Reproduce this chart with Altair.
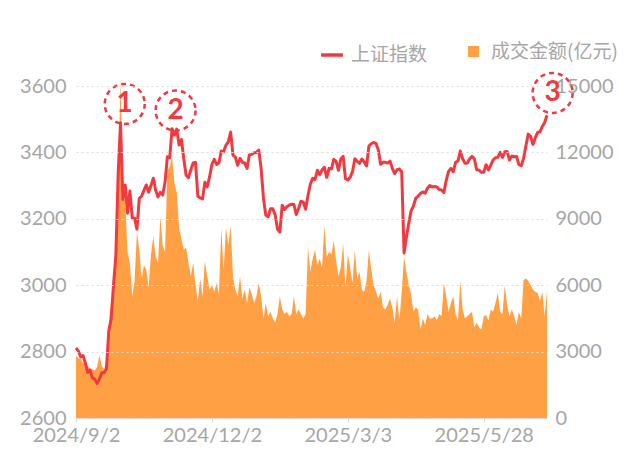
import altair as alt
import pandas as pd

# Shanghai Composite index (daily close), trading-day order
index_close = [
    2811, 2802, 2784, 2788, 2765, 2737, 2744, 2721, 2717, 2704,
    2717, 2736, 2736, 2748, 2863, 2896, 3000, 3088, 3336, 3489,
    3258, 3302, 3217, 3284, 3202, 3202, 3169, 3261, 3268, 3286,
    3302, 3280, 3300, 3322, 3286, 3266, 3280, 3272, 3310, 3387,
    3384, 3471, 3452, 3470, 3422, 3439, 3380, 3331, 3324, 3347,
    3368, 3370, 3268, 3263, 3260, 3310, 3296, 3326, 3364, 3379,
    3364, 3368, 3404, 3402, 3422, 3432, 3461, 3392, 3386, 3361,
    3382, 3370, 3368, 3352, 3393, 3394, 3399, 3400, 3407, 3352,
    3262, 3211, 3206, 3230, 3230, 3212, 3169, 3160, 3241, 3228,
    3236, 3241, 3244, 3243, 3213, 3231, 3253, 3250, 3229, 3270,
    3304, 3322, 3318, 3346, 3333, 3347, 3355, 3325, 3352, 3350,
    3379, 3373, 3346, 3380, 3388, 3321, 3317, 3325, 3342, 3381,
    3373, 3367, 3380, 3371, 3359, 3419, 3426, 3430, 3427, 3408,
    3364, 3370, 3370, 3368, 3374, 3352, 3336, 3348, 3350, 3342,
    3097, 3145, 3186, 3224, 3238, 3262, 3268, 3276, 3281, 3277,
    3292, 3300, 3296, 3297, 3296, 3288, 3287, 3279, 3316, 3343,
    3352, 3342, 3370, 3374, 3404, 3381, 3367, 3368, 3381, 3388,
    3381, 3348, 3347, 3340, 3340, 3363, 3347, 3362, 3377, 3384,
    3385, 3400, 3385, 3402, 3403, 3377, 3389, 3387, 3388, 3363,
    3360, 3382, 3420, 3455, 3448, 3424, 3444, 3460, 3462, 3478,
    3490, 3512,
]

# Turnover (100 million yuan)
turnover = [
    2800, 2700, 2650, 2500, 2450, 2350, 2250, 2200, 2150, 2300,
    2850, 2350, 2200, 2600, 4300, 5300, 5900, 7200, 10500, 15300,
    10000, 9800, 7500, 7000, 5500, 6200, 8400, 7600, 6300, 6900,
    6700, 5900, 7400, 8200, 7300, 7000, 9100, 7800, 7500, 11200,
    11340, 11800, 10600, 10200, 8600, 8100, 7600, 7700, 7000, 6400,
    7000, 6000, 5300, 6300, 5500, 7100, 6400, 5800, 6000, 5700,
    6100, 5600, 8600, 6700, 8600, 7800, 8700, 6400, 5800, 5500,
    6400, 5400, 5800, 5200, 5900, 5600, 5200, 5500, 6100, 5500,
    4500, 5200, 4600, 4800, 4500, 4300, 4700, 5500, 4900, 4700,
    4800, 4600, 4700, 5500, 4700, 4900, 4700, 4500, 4700, 7700,
    6600, 7200, 7600, 6900, 7200, 6800, 8700, 7300, 7500, 7400,
    8000, 7100, 6400, 6800, 7900, 5900, 7400, 6800, 6100, 7600,
    6300, 6600, 5800, 5700, 6200, 7600, 6700, 6000, 5700, 5400,
    5700, 5000, 4900, 5100, 5400, 5000, 4300, 5500, 4400, 5700,
    7300, 6600, 6000, 5600, 4800, 5000, 4900, 4000, 4500, 4200,
    4700, 4500, 4500, 4600, 4400, 4700, 4600, 6100, 5500, 4800,
    5200, 5500, 4700, 4400, 6200, 4900, 4500, 4600, 4700, 4800,
    4100, 4300, 4100, 4000, 4600, 4650, 4400, 4900, 4800, 5200,
    5650, 4800, 4700, 6000, 5100, 4600, 4900, 4600, 4200, 4800,
    4500, 6240, 6300, 6200, 6000, 5800, 5700, 5650, 5300, 5700,
    4600, 5700,
]

tick_idx = [0, 58, 116, 174]
tick_labels = ["2024/9/2", "2024/12/2", "2025/3/3", "2025/5/28"]

left_ticks = [2600, 2800, 3000, 3200, 3400, 3600]
right_ticks = [0, 3000, 6000, 9000, 12000, 15000]

ann_x = [20.8, 42.5, 203.4]
ann_y = [3546, 3526, 3579]
ann_text = ["1", "2", "3"]

RED = "#F03A40"
ORANGE = "#FFA045"
GRAY = "#a6a6a6"
FONT = "Noto Sans CJK SC"

n = min(len(index_close), len(turnover))
df = pd.DataFrame({
    "i": list(range(n)),
    "close": index_close[:n],
    "vol": turnover[:n],
    "s1": ["上证指数"] * n,
    "s2": ["成交金额(亿元)"] * n,
})
ann = pd.DataFrame({"x": ann_x, "y": ann_y, "t": ann_text})

expr = "''"
for k, lab in zip(reversed(tick_idx), reversed(tick_labels)):
    expr = f"datum.value == {k} ? '{lab}' : ({expr})"

xscale = alt.Scale(domain=[0, n - 1], nice=False, zero=False)
yscale_left = alt.Scale(domain=[2600, 3600], nice=False, zero=False)

x_axis = alt.Axis(values=tick_idx, labelExpr=expr, grid=False,
                  domain=True, domainColor="#d3d7dc", domainWidth=1.5,
                  ticks=True, tickColor="#d3d7dc", tickSize=4,
                  labelFontSize=20, labelColor=GRAY, labelFont="Lato",
                  labelPadding=3, labelFlush=False, labelOverlap=False)
left_axis = alt.Axis(orient="left", values=left_ticks, grid=True,
                     gridDash=[2, 3], gridColor="#dcdcdc", gridWidth=1,
                     domain=False, ticks=False, labelFontSize=20, format="d",
                     labelColor=GRAY, labelFont="Lato", labelPadding=10, zindex=1)
right_axis = alt.Axis(orient="right", values=right_ticks, grid=False, format="d",
                      domain=False, ticks=False, labelFontSize=20,
                      labelColor=GRAY, labelFont="Lato", labelPadding=8)

area = alt.Chart(df).mark_area(color=ORANGE, opacity=1, interpolate="linear").encode(
    x=alt.X("i:Q", scale=xscale, title=None, axis=x_axis),
    y=alt.Y("vol:Q", scale=alt.Scale(domain=[0, 15000], nice=False), title=None,
            axis=right_axis),
    fill=alt.Fill("s2:N", scale=alt.Scale(domain=["成交金额(亿元)"], range=[ORANGE]),
                  legend=alt.Legend(title=None, orient="none", legendX=388, legendY=-44,
                                    symbolType="square", symbolSize=121,
                                    labelFontSize=19, labelColor=GRAY, labelFont=FONT,
                                    labelOffset=8, padding=0)),
)

line = alt.Chart(df).mark_line(color=RED, strokeWidth=3, strokeJoin="round").encode(
    x=alt.X("i:Q", scale=xscale, title=None, axis=x_axis),
    y=alt.Y("close:Q", scale=yscale_left, title=None, axis=left_axis),
    stroke=alt.Stroke("s1:N", scale=alt.Scale(domain=["上证指数"], range=[RED]),
                      legend=alt.Legend(title=None, orient="none", legendX=243, legendY=-44,
                                        symbolType="stroke", symbolSize=480,
                                        symbolStrokeWidth=3.5,
                                        labelFontSize=19, labelColor=GRAY, labelFont=FONT,
                                        labelOffset=6, padding=0)),
)

circles = alt.Chart(ann).mark_point(shape="circle", filled=False, size=1600,
                                    stroke=RED, strokeWidth=2.5, strokeDash=[5, 4],
                                    opacity=1).encode(
    x=alt.X("x:Q", scale=xscale, title=None, axis=x_axis),
    y=alt.Y("y:Q", scale=yscale_left, title=None, axis=left_axis),
)
nums = alt.Chart(ann).mark_text(color=RED, fontSize=28, fontWeight="bold", font="Lato",
                                align="center", baseline="middle").encode(
    x=alt.X("x:Q", scale=xscale, title=None, axis=x_axis),
    y=alt.Y("y:Q", scale=yscale_left, title=None, axis=left_axis),
    text="t:N",
)

top = alt.layer(line, circles, nums)

chart = alt.layer(area, top).resolve_scale(y="independent", fill="independent",
                                           stroke="independent").properties(
    width=471, height=332,
    autosize=alt.AutoSizeParams(type="none"),
    padding={"left": 68, "top": 78, "right": 84, "bottom": 33},
).configure(background="white").configure_view(stroke=None)

chart.save("out.html", embed_options={"renderer": "svg", "actions": False})
